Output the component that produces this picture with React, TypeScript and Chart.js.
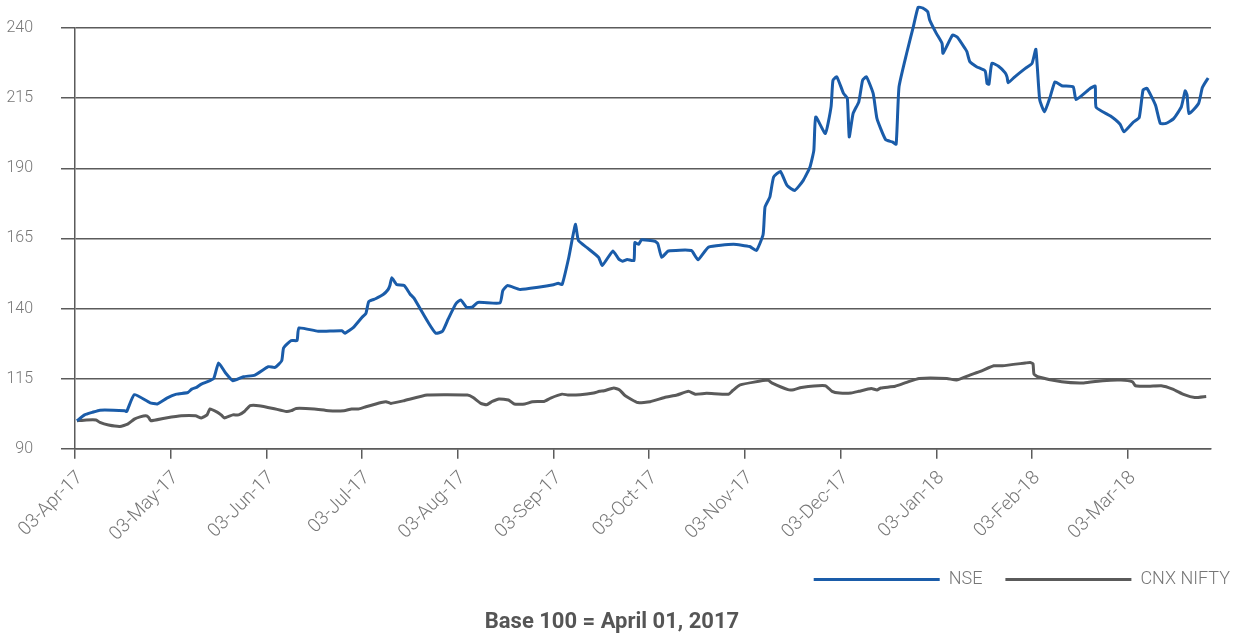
import React, { useEffect, useRef } from 'react';
import { Chart, registerables } from 'chart.js';

Chart.register(...registerables);

// Month tick labels (x axis positions 0..11)
const monthLabels = [
  '03-Apr-17', '03-May-17', '03-Jun-17', '03-Jul-17', '03-Aug-17', '03-Sep-17',
  '03-Oct-17', '03-Nov-17', '03-Dec-17', '03-Jan-18', '03-Feb-18', '03-Mar-18',
];
const yTicks = [90, 115, 140, 165, 190, 215, 240];

// NSE: position in months since 03-Apr-17, and value (base 100)
const nseMonths = [
  0.02, 0.10, 0.18, 0.26, 0.52, 0.54, 0.62, 0.78, 0.86, 0.96, 1.06, 1.18, 1.22, 1.27, 1.32, 1.41, 1.45, 1.50,
  1.57, 1.65, 1.76, 1.88, 2.02, 2.09, 2.16, 2.18, 2.26, 2.32, 2.34, 2.54, 2.79, 2.82, 2.91, 3.00, 3.04, 3.07,
  3.14, 3.22, 3.27, 3.29, 3.31, 3.36, 3.44, 3.50, 3.54, 3.69, 3.77, 3.84, 3.90, 3.98, 4.03, 4.09, 4.15, 4.21,
  4.44, 4.47, 4.52, 4.65, 4.84, 5.00, 5.05, 5.09, 5.16, 5.20, 5.23, 5.26, 5.35, 5.47, 5.51, 5.62, 5.68, 5.72,
  5.77, 5.84, 5.85, 5.89, 5.92, 6.06, 6.09, 6.13, 6.20, 6.44, 6.51, 6.62, 6.88, 7.05, 7.12, 7.19, 7.21, 7.26,
  7.30, 7.37, 7.44, 7.52, 7.61, 7.68, 7.72, 7.74, 7.84, 7.90, 7.92, 7.96, 8.03, 8.07, 8.09, 8.13, 8.19, 8.23,
  8.27, 8.34, 8.38, 8.47, 8.54, 8.58, 8.61, 8.69, 8.76, 8.81, 8.86, 8.91, 8.93, 9.00, 9.06, 9.07, 9.17, 9.22,
  9.30, 9.32, 9.35, 9.42, 9.51, 9.53, 9.55, 9.58, 9.65, 9.72, 9.74, 9.75, 9.82, 9.93, 10.00, 10.04, 10.08,
  10.13, 10.19, 10.24, 10.31, 10.43, 10.46, 10.61, 10.66, 10.67, 10.82, 10.92, 10.96, 11.06, 11.12, 11.16,
  11.20, 11.29, 11.34, 11.40, 11.48, 11.56, 11.60, 11.62, 11.64, 11.74, 11.78, 11.84,
];
const nseValues = [
  100.0, 102.1, 103.0, 103.8, 103.6, 103.3, 109.3, 106.5, 106.0, 108.1, 109.5, 110.1, 111.3, 111.9, 113.1, 114.3, 115.1, 120.6,
  117.2, 114.3, 115.7, 116.3, 119.3, 119.0, 121.4, 126.0, 128.6, 128.6, 133.1, 131.9, 132.1, 131.2, 133.3, 136.9, 138.3, 142.5,
  143.5, 145.0, 146.7, 148.2, 151.0, 148.6, 148.2, 145.2, 143.8, 135.1, 131.2, 131.9, 136.3, 141.7, 143.1, 140.5, 140.5, 142.2,
  142.0, 146.4, 148.2, 146.8, 147.6, 148.5, 149.0, 148.6, 158.3, 165.5, 170.0, 164.3, 161.7, 158.3, 155.4, 160.5, 157.7, 156.9,
  157.5, 157.1, 163.5, 162.9, 164.5, 164.0, 163.1, 158.3, 160.5, 160.7, 157.4, 161.9, 162.9, 162.1, 160.7, 166.4, 176.2, 179.7,
  186.9, 188.9, 183.9, 182.1, 185.7, 190.5, 196.4, 208.3, 202.4, 211.9, 221.4, 222.6, 216.7, 214.9, 201.2, 209.5, 213.7, 221.4,
  222.6, 216.7, 207.7, 200.2, 199.4, 198.6, 219.0, 231.0, 240.5, 247.4, 247.1, 245.8, 242.9, 238.1, 234.5, 231.0, 237.5, 236.7,
  232.7, 231.5, 228.0, 226.2, 224.7, 220.2, 220.0, 227.4, 226.4, 224.0, 222.4, 220.5, 222.6, 225.6, 227.4, 232.4, 214.5,
  210.1, 215.5, 220.8, 219.4, 219.0, 214.5, 218.5, 219.3, 211.7, 208.6, 205.7, 203.0, 206.5, 208.1, 217.9,
  218.5, 212.5, 206.0, 206.0, 207.7, 211.9, 217.6, 216.1, 209.5, 213.1, 218.8, 222.2,
];

// CNX NIFTY
const niftyMonths = [
  0.02, 0.12, 0.22, 0.26, 0.35, 0.47, 0.55, 0.62, 0.68, 0.74, 0.77, 0.79, 0.95, 1.11, 1.26, 1.32, 1.38, 1.41,
  1.49, 1.53, 1.56, 1.65, 1.71, 1.77, 1.83, 1.92, 2.07, 2.21, 2.26, 2.31, 2.50, 2.65, 2.81, 2.89, 2.96, 3.04,
  3.20, 3.25, 3.30, 3.43, 3.68, 4.10, 4.16, 4.24, 4.30, 4.36, 4.43, 4.53, 4.59, 4.70, 4.78, 4.90, 4.97, 5.09,
  5.15, 5.28, 5.42, 5.48, 5.53, 5.63, 5.69, 5.75, 5.88, 6.01, 6.16, 6.29, 6.41, 6.48, 6.60, 6.83, 6.87, 6.95,
  7.24, 7.28, 7.45, 7.51, 7.59, 7.84, 7.91, 7.99, 8.11, 8.19, 8.32, 8.38, 8.42, 8.57, 8.69, 8.82, 9.11, 9.21,
  9.35, 9.46, 9.60, 9.69, 9.93, 9.98, 10.01, 10.02, 10.06, 10.31, 10.54, 10.74, 10.93, 11.05, 11.08, 11.22,
  11.35, 11.47, 11.59, 11.70, 11.82,
];
const niftyValues = [
  100.0, 100.3, 100.3, 99.4, 98.5, 98.0, 98.8, 100.6, 101.4, 101.8, 101.2, 100.0, 101.0, 101.8, 101.8, 101.0, 102.1, 104.2,
  103.0, 102.0, 101.0, 102.1, 102.1, 103.3, 105.4, 105.4, 104.4, 103.3, 103.6, 104.4, 104.2, 103.6, 103.6, 104.2, 104.2, 105.0,
  106.5, 106.8, 106.2, 107.1, 109.2, 109.2, 108.3, 106.2, 105.7, 106.9, 107.8, 107.4, 106.0, 106.0, 106.8, 106.9, 108.1, 109.5,
  109.2, 109.3, 109.9, 110.5, 110.7, 111.7, 111.0, 108.9, 106.5, 106.8, 108.3, 109.2, 110.5, 109.5, 109.8, 109.5, 110.7, 112.8,
  114.5, 113.5, 111.1, 111.1, 111.9, 112.5, 110.5, 109.9, 109.9, 110.5, 111.5, 111.0, 111.7, 112.3, 113.7, 115.1, 115.1, 114.5,
  116.3, 117.6, 119.6, 119.6, 120.6, 120.8, 120.3, 116.7, 115.7, 113.9, 113.5, 114.3, 114.5, 113.9, 112.5, 112.3,
  112.5, 111.3, 109.3, 108.3, 108.7,
];

const FONT = 'Roboto, "Noto Sans", sans-serif';
const AXIS_COLOR = '#5b5b5b';
const TEXT_COLOR = '#777777';
const NSE_COLOR = '#1a5ca9';
const NIFTY_COLOR = '#5a5a5a';

export default function App() {
  const canvasRef = useRef<HTMLCanvasElement | null>(null);

  useEffect(() => {
    document.body.style.margin = '0';
    const canvas = canvasRef.current;
    if (!canvas) return;
    const chart = new Chart(canvas, {
      type: 'line',
      data: {
        datasets: [
          {
            label: 'NSE',
            data: nseMonths.map((m, i) => ({ x: m, y: nseValues[i] })),
            borderColor: NSE_COLOR,
            backgroundColor: NSE_COLOR,
            borderWidth: 3,
            pointRadius: 0,
            tension: 0.15,
            clip: false as any,
          },
          {
            label: 'CNX NIFTY',
            data: niftyMonths.map((m, i) => ({ x: m, y: niftyValues[i] })),
            borderColor: NIFTY_COLOR,
            backgroundColor: NIFTY_COLOR,
            borderWidth: 3,
            pointRadius: 0,
            tension: 0.15,
            clip: false as any,
          },
        ],
      },
      options: {
        responsive: false,
        animation: false,
        devicePixelRatio: 1,
        layout: { padding: { left: -29, right: -11, top: 28, bottom: -3 } },
        scales: {
          x: {
            type: 'linear',
            min: 0,
            max: 11.87,
            afterBuildTicks: (axis: any) => {
              axis.ticks = monthLabels.map((_, i) => ({ value: i }));
            },
            afterFit: (s: any) => {
              s.paddingLeft = 0;
              s.paddingRight = 0;
              s.height = s.height - 6;
            },
            ticks: {
              autoSkip: false,
              maxRotation: 45,
              minRotation: 45,
              padding: 8,
              labelOffset: 5,
              color: TEXT_COLOR,
              font: { family: FONT, size: 19, weight: 300 as any },
              callback: (v: any) => monthLabels[Math.round(Number(v))] ?? '',
            },
            grid: {
              drawOnChartArea: false,
              drawTicks: true,
              tickLength: 10,
              color: AXIS_COLOR,
              lineWidth: 1.5,
            },
            border: { display: true, color: AXIS_COLOR, width: 1.5 },
          },
          y: {
            type: 'linear',
            min: 90,
            max: 240,
            afterBuildTicks: (axis: any) => {
              axis.ticks = yTicks.map((v) => ({ value: v }));
            },
            afterFit: (s: any) => {
              s.width = 104;
              s.paddingTop = 0;
              s.paddingBottom = 0;
            },
            ticks: {
              padding: 28,
              color: TEXT_COLOR,
              font: { family: FONT, size: 16, weight: 300 as any },
            },
            grid: {
              color: AXIS_COLOR,
              lineWidth: 1.5,
              tickLength: 14,
            },
            border: { display: true, color: AXIS_COLOR, width: 1.5 },
          },
          y2: {
            type: 'linear',
            position: 'right',
            display: true,
            min: 90,
            max: 240,
            ticks: { display: false },
            grid: { drawOnChartArea: false, drawTicks: false },
            border: { display: false },
            afterFit: (s: any) => {
              s.width = 42;
              s.paddingTop = 0;
              s.paddingBottom = 0;
            },
          },
        },
        plugins: {
          legend: {
            position: 'bottom',
            align: 'end',
            labels: {
              usePointStyle: true,
              pointStyle: 'line',
              pointStyleWidth: 126,
              padding: 23,
              color: TEXT_COLOR,
              font: { family: FONT, size: 18, weight: 300 as any },
            },
          },
          title: {
            display: true,
            position: 'bottom',
            text: 'Base 100 = April 01, 2017',
            color: '#555555',
            font: { family: FONT, size: 22, weight: 'bold' },
            padding: { top: 11, bottom: 1 },
          },
          tooltip: { enabled: false },
        },
      },
    });
    return () => chart.destroy();
  }, []);

  return (
    <div style={{ width: 1242, height: 634 }}>
      <canvas ref={canvasRef} width={1242} height={634} />
    </div>
  );
}
